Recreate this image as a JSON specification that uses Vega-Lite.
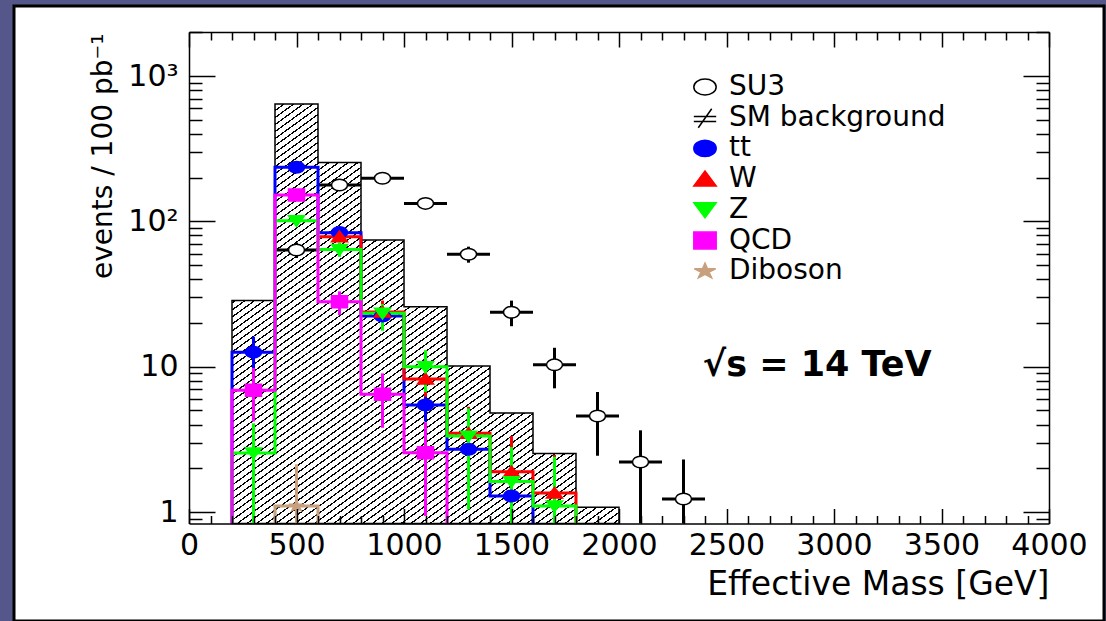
{
"$schema": "https://vega.github.io/schema/vega-lite/v6.json",
"width": 1090, "height": 615,
"autosize": {"type": "none"},
"padding": {"left": 14, "top": 6, "right": 2, "bottom": 0},
"datasets": {
 "bg": [
  {"x":200,"y":28.5},{"x":400,"y":643},{"x":600,"y":254},{"x":800,"y":74.5},{"x":1000,"y":25.9},
  {"x":1200,"y":10.1},{"x":1400,"y":4.8},{"x":1600,"y":2.53},{"x":1800,"y":1.08},{"x":2000,"y":1.08}
 ],
 "hist": [
  {"series":"tt","k":0,"x":200,"y":0.01},{"series":"tt","k":1,"x":200,"y":12.6},{"series":"tt","k":2,"x":400,"y":236},
  {"series":"tt","k":3,"x":600,"y":83.6},{"series":"tt","k":4,"x":800,"y":22.3},{"series":"tt","k":5,"x":1000,"y":5.45},
  {"series":"tt","k":6,"x":1200,"y":2.7},{"series":"tt","k":7,"x":1400,"y":1.29},{"series":"tt","k":8,"x":1600,"y":0.01},
  {"series":"W","k":0,"x":600,"y":78.5},{"series":"W","k":1,"x":800,"y":23.8},{"series":"W","k":2,"x":1000,"y":8.23},
  {"series":"W","k":3,"x":1200,"y":3.48},{"series":"W","k":4,"x":1400,"y":1.89},{"series":"W","k":5,"x":1600,"y":1.35},
  {"series":"W","k":6,"x":1800,"y":0.01},
  {"series":"Z","k":0,"x":200,"y":0.01},{"series":"Z","k":1,"x":200,"y":2.55},{"series":"Z","k":2,"x":400,"y":101},
  {"series":"Z","k":3,"x":600,"y":64},{"series":"Z","k":4,"x":800,"y":23.3},{"series":"Z","k":5,"x":1000,"y":10.0},
  {"series":"Z","k":6,"x":1200,"y":3.33},{"series":"Z","k":7,"x":1400,"y":1.62},{"series":"Z","k":8,"x":1600,"y":1.1},
  {"series":"Z","k":9,"x":1800,"y":0.01},
  {"series":"QCD","k":0,"x":200,"y":0.01},{"series":"QCD","k":1,"x":200,"y":6.9},{"series":"QCD","k":2,"x":400,"y":152},
  {"series":"QCD","k":3,"x":600,"y":28},{"series":"QCD","k":4,"x":800,"y":6.46},{"series":"QCD","k":5,"x":1000,"y":2.56},
  {"series":"QCD","k":6,"x":1200,"y":0.01},
  {"series":"Diboson","k":0,"x":400,"y":0.01},{"series":"Diboson","k":1,"x":400,"y":1.1},{"series":"Diboson","k":2,"x":600,"y":0.01}
 ],
 "pts": [
  {"series":"SU3","x":500,"y":63.6,"lo":56,"hi":71.5,"xlo":400,"xhi":600},
  {"series":"SU3","x":700,"y":178,"lo":165,"hi":191,"xlo":600,"xhi":800},
  {"series":"SU3","x":900,"y":198,"lo":184,"hi":212,"xlo":800,"xhi":1000},
  {"series":"SU3","x":1100,"y":133,"lo":122,"hi":144,"xlo":1000,"xhi":1200},
  {"series":"SU3","x":1300,"y":59.4,"lo":52,"hi":67,"xlo":1200,"xhi":1400},
  {"series":"SU3","x":1500,"y":23.7,"lo":19,"hi":28.5,"xlo":1400,"xhi":1600},
  {"series":"SU3","x":1700,"y":10.3,"lo":7.1,"hi":13.5,"xlo":1600,"xhi":1800},
  {"series":"SU3","x":1900,"y":4.58,"lo":2.44,"hi":6.7,"xlo":1800,"xhi":2000},
  {"series":"SU3","x":2100,"y":2.21,"lo":0.72,"hi":3.65,"xlo":2000,"xhi":2200},
  {"series":"SU3","x":2300,"y":1.23,"lo":0.12,"hi":2.3,"xlo":2200,"xhi":2400},
  {"series":"tt","x":300,"y":12.6,"lo":9.75,"hi":16.1},
  {"series":"tt","x":500,"y":236,"lo":224,"hi":248},
  {"series":"tt","x":700,"y":84,"lo":78,"hi":90},
  {"series":"tt","x":900,"y":22.3,"lo":19.5,"hi":25.5},
  {"series":"tt","x":1100,"y":5.45,"lo":4.2,"hi":6.9},
  {"series":"tt","x":1300,"y":2.7,"lo":1.05,"hi":4.35},
  {"series":"tt","x":1500,"y":1.29,"lo":0.4,"hi":2.2},
  {"series":"W","x":700,"y":78.5,"lo":73,"hi":84},
  {"series":"W","x":900,"y":23.8,"lo":20,"hi":28.5},
  {"series":"W","x":1100,"y":8.23,"lo":6.2,"hi":10.5},
  {"series":"W","x":1300,"y":3.48,"lo":1.7,"hi":5.3},
  {"series":"W","x":1500,"y":1.89,"lo":0.5,"hi":3.33},
  {"series":"W","x":1700,"y":1.35,"lo":0.2,"hi":2.47},
  {"series":"Z","x":300,"y":2.55,"lo":0.01,"hi":4.08},
  {"series":"Z","x":500,"y":101,"lo":93,"hi":110},
  {"series":"Z","x":700,"y":64,"lo":57,"hi":71.5},
  {"series":"Z","x":900,"y":23.3,"lo":17.7,"hi":27},
  {"series":"Z","x":1100,"y":10.0,"lo":6.7,"hi":13},
  {"series":"Z","x":1300,"y":3.33,"lo":1.04,"hi":5.17},
  {"series":"Z","x":1500,"y":1.62,"lo":0.01,"hi":2.8},
  {"series":"Z","x":1700,"y":1.1,"lo":0.01,"hi":2.4},
  {"series":"QCD","x":300,"y":6.9,"lo":4.2,"hi":9.8},
  {"series":"QCD","x":500,"y":152,"lo":140,"hi":164},
  {"series":"QCD","x":700,"y":28,"lo":22.7,"hi":33},
  {"series":"QCD","x":900,"y":6.46,"lo":3.8,"hi":9.0},
  {"series":"QCD","x":1100,"y":2.56,"lo":0.94,"hi":4.15},
  {"series":"Diboson","x":500,"y":1.1,"lo":0.01,"hi":2.13}
 ]
},
"layer": [
 {"data":{"name":"bg"},
  "mark":{"type":"area","interpolate":"step-after","stroke":"#000","strokeWidth":1.5,"opacity":1,"fillOpacity":1,
   "fill":{"gradient":"linear","x1":0,"y1":0,"x2":0.7725,"y2":1.1524,"stops":[
{"offset":0.003,"color":"#fff"},{"offset":0.003,"color":"#000"},{"offset":0.0052,"color":"#000"},{"offset":0.0052,"color":"#fff"},
{"offset":0.013,"color":"#fff"},{"offset":0.013,"color":"#000"},{"offset":0.0152,"color":"#000"},{"offset":0.0152,"color":"#fff"},
{"offset":0.023,"color":"#fff"},{"offset":0.023,"color":"#000"},{"offset":0.0252,"color":"#000"},{"offset":0.0252,"color":"#fff"},
{"offset":0.033,"color":"#fff"},{"offset":0.033,"color":"#000"},{"offset":0.0352,"color":"#000"},{"offset":0.0352,"color":"#fff"},
{"offset":0.043,"color":"#fff"},{"offset":0.043,"color":"#000"},{"offset":0.0452,"color":"#000"},{"offset":0.0452,"color":"#fff"},
{"offset":0.053,"color":"#fff"},{"offset":0.053,"color":"#000"},{"offset":0.0552,"color":"#000"},{"offset":0.0552,"color":"#fff"},
{"offset":0.063,"color":"#fff"},{"offset":0.063,"color":"#000"},{"offset":0.0652,"color":"#000"},{"offset":0.0652,"color":"#fff"},
{"offset":0.073,"color":"#fff"},{"offset":0.073,"color":"#000"},{"offset":0.0752,"color":"#000"},{"offset":0.0752,"color":"#fff"},
{"offset":0.083,"color":"#fff"},{"offset":0.083,"color":"#000"},{"offset":0.0852,"color":"#000"},{"offset":0.0852,"color":"#fff"},
{"offset":0.093,"color":"#fff"},{"offset":0.093,"color":"#000"},{"offset":0.0952,"color":"#000"},{"offset":0.0952,"color":"#fff"},
{"offset":0.103,"color":"#fff"},{"offset":0.103,"color":"#000"},{"offset":0.1052,"color":"#000"},{"offset":0.1052,"color":"#fff"},
{"offset":0.113,"color":"#fff"},{"offset":0.113,"color":"#000"},{"offset":0.1152,"color":"#000"},{"offset":0.1152,"color":"#fff"},
{"offset":0.123,"color":"#fff"},{"offset":0.123,"color":"#000"},{"offset":0.1252,"color":"#000"},{"offset":0.1252,"color":"#fff"},
{"offset":0.133,"color":"#fff"},{"offset":0.133,"color":"#000"},{"offset":0.1352,"color":"#000"},{"offset":0.1352,"color":"#fff"},
{"offset":0.143,"color":"#fff"},{"offset":0.143,"color":"#000"},{"offset":0.1452,"color":"#000"},{"offset":0.1452,"color":"#fff"},
{"offset":0.153,"color":"#fff"},{"offset":0.153,"color":"#000"},{"offset":0.1552,"color":"#000"},{"offset":0.1552,"color":"#fff"},
{"offset":0.163,"color":"#fff"},{"offset":0.163,"color":"#000"},{"offset":0.1652,"color":"#000"},{"offset":0.1652,"color":"#fff"},
{"offset":0.173,"color":"#fff"},{"offset":0.173,"color":"#000"},{"offset":0.1752,"color":"#000"},{"offset":0.1752,"color":"#fff"},
{"offset":0.183,"color":"#fff"},{"offset":0.183,"color":"#000"},{"offset":0.1852,"color":"#000"},{"offset":0.1852,"color":"#fff"},
{"offset":0.193,"color":"#fff"},{"offset":0.193,"color":"#000"},{"offset":0.1952,"color":"#000"},{"offset":0.1952,"color":"#fff"},
{"offset":0.203,"color":"#fff"},{"offset":0.203,"color":"#000"},{"offset":0.2052,"color":"#000"},{"offset":0.2052,"color":"#fff"},
{"offset":0.213,"color":"#fff"},{"offset":0.213,"color":"#000"},{"offset":0.2152,"color":"#000"},{"offset":0.2152,"color":"#fff"},
{"offset":0.223,"color":"#fff"},{"offset":0.223,"color":"#000"},{"offset":0.2252,"color":"#000"},{"offset":0.2252,"color":"#fff"},
{"offset":0.233,"color":"#fff"},{"offset":0.233,"color":"#000"},{"offset":0.2352,"color":"#000"},{"offset":0.2352,"color":"#fff"},
{"offset":0.243,"color":"#fff"},{"offset":0.243,"color":"#000"},{"offset":0.2452,"color":"#000"},{"offset":0.2452,"color":"#fff"},
{"offset":0.253,"color":"#fff"},{"offset":0.253,"color":"#000"},{"offset":0.2552,"color":"#000"},{"offset":0.2552,"color":"#fff"},
{"offset":0.263,"color":"#fff"},{"offset":0.263,"color":"#000"},{"offset":0.2652,"color":"#000"},{"offset":0.2652,"color":"#fff"},
{"offset":0.273,"color":"#fff"},{"offset":0.273,"color":"#000"},{"offset":0.2752,"color":"#000"},{"offset":0.2752,"color":"#fff"},
{"offset":0.283,"color":"#fff"},{"offset":0.283,"color":"#000"},{"offset":0.2852,"color":"#000"},{"offset":0.2852,"color":"#fff"},
{"offset":0.293,"color":"#fff"},{"offset":0.293,"color":"#000"},{"offset":0.2952,"color":"#000"},{"offset":0.2952,"color":"#fff"},
{"offset":0.303,"color":"#fff"},{"offset":0.303,"color":"#000"},{"offset":0.3052,"color":"#000"},{"offset":0.3052,"color":"#fff"},
{"offset":0.313,"color":"#fff"},{"offset":0.313,"color":"#000"},{"offset":0.3152,"color":"#000"},{"offset":0.3152,"color":"#fff"},
{"offset":0.323,"color":"#fff"},{"offset":0.323,"color":"#000"},{"offset":0.3252,"color":"#000"},{"offset":0.3252,"color":"#fff"},
{"offset":0.333,"color":"#fff"},{"offset":0.333,"color":"#000"},{"offset":0.3352,"color":"#000"},{"offset":0.3352,"color":"#fff"},
{"offset":0.343,"color":"#fff"},{"offset":0.343,"color":"#000"},{"offset":0.3452,"color":"#000"},{"offset":0.3452,"color":"#fff"},
{"offset":0.353,"color":"#fff"},{"offset":0.353,"color":"#000"},{"offset":0.3552,"color":"#000"},{"offset":0.3552,"color":"#fff"},
{"offset":0.363,"color":"#fff"},{"offset":0.363,"color":"#000"},{"offset":0.3652,"color":"#000"},{"offset":0.3652,"color":"#fff"},
{"offset":0.373,"color":"#fff"},{"offset":0.373,"color":"#000"},{"offset":0.3752,"color":"#000"},{"offset":0.3752,"color":"#fff"},
{"offset":0.383,"color":"#fff"},{"offset":0.383,"color":"#000"},{"offset":0.3852,"color":"#000"},{"offset":0.3852,"color":"#fff"},
{"offset":0.393,"color":"#fff"},{"offset":0.393,"color":"#000"},{"offset":0.3952,"color":"#000"},{"offset":0.3952,"color":"#fff"},
{"offset":0.403,"color":"#fff"},{"offset":0.403,"color":"#000"},{"offset":0.4052,"color":"#000"},{"offset":0.4052,"color":"#fff"},
{"offset":0.413,"color":"#fff"},{"offset":0.413,"color":"#000"},{"offset":0.4152,"color":"#000"},{"offset":0.4152,"color":"#fff"},
{"offset":0.423,"color":"#fff"},{"offset":0.423,"color":"#000"},{"offset":0.4252,"color":"#000"},{"offset":0.4252,"color":"#fff"},
{"offset":0.433,"color":"#fff"},{"offset":0.433,"color":"#000"},{"offset":0.4352,"color":"#000"},{"offset":0.4352,"color":"#fff"},
{"offset":0.443,"color":"#fff"},{"offset":0.443,"color":"#000"},{"offset":0.4452,"color":"#000"},{"offset":0.4452,"color":"#fff"},
{"offset":0.453,"color":"#fff"},{"offset":0.453,"color":"#000"},{"offset":0.4552,"color":"#000"},{"offset":0.4552,"color":"#fff"},
{"offset":0.463,"color":"#fff"},{"offset":0.463,"color":"#000"},{"offset":0.4652,"color":"#000"},{"offset":0.4652,"color":"#fff"},
{"offset":0.473,"color":"#fff"},{"offset":0.473,"color":"#000"},{"offset":0.4752,"color":"#000"},{"offset":0.4752,"color":"#fff"},
{"offset":0.483,"color":"#fff"},{"offset":0.483,"color":"#000"},{"offset":0.4852,"color":"#000"},{"offset":0.4852,"color":"#fff"},
{"offset":0.493,"color":"#fff"},{"offset":0.493,"color":"#000"},{"offset":0.4952,"color":"#000"},{"offset":0.4952,"color":"#fff"},
{"offset":0.503,"color":"#fff"},{"offset":0.503,"color":"#000"},{"offset":0.5052,"color":"#000"},{"offset":0.5052,"color":"#fff"},
{"offset":0.513,"color":"#fff"},{"offset":0.513,"color":"#000"},{"offset":0.5152,"color":"#000"},{"offset":0.5152,"color":"#fff"},
{"offset":0.523,"color":"#fff"},{"offset":0.523,"color":"#000"},{"offset":0.5252,"color":"#000"},{"offset":0.5252,"color":"#fff"},
{"offset":0.533,"color":"#fff"},{"offset":0.533,"color":"#000"},{"offset":0.5352,"color":"#000"},{"offset":0.5352,"color":"#fff"},
{"offset":0.543,"color":"#fff"},{"offset":0.543,"color":"#000"},{"offset":0.5452,"color":"#000"},{"offset":0.5452,"color":"#fff"},
{"offset":0.553,"color":"#fff"},{"offset":0.553,"color":"#000"},{"offset":0.5552,"color":"#000"},{"offset":0.5552,"color":"#fff"},
{"offset":0.563,"color":"#fff"},{"offset":0.563,"color":"#000"},{"offset":0.5652,"color":"#000"},{"offset":0.5652,"color":"#fff"},
{"offset":0.573,"color":"#fff"},{"offset":0.573,"color":"#000"},{"offset":0.5752,"color":"#000"},{"offset":0.5752,"color":"#fff"},
{"offset":0.583,"color":"#fff"},{"offset":0.583,"color":"#000"},{"offset":0.5852,"color":"#000"},{"offset":0.5852,"color":"#fff"},
{"offset":0.593,"color":"#fff"},{"offset":0.593,"color":"#000"},{"offset":0.5952,"color":"#000"},{"offset":0.5952,"color":"#fff"},
{"offset":0.603,"color":"#fff"},{"offset":0.603,"color":"#000"},{"offset":0.6052,"color":"#000"},{"offset":0.6052,"color":"#fff"},
{"offset":0.613,"color":"#fff"},{"offset":0.613,"color":"#000"},{"offset":0.6152,"color":"#000"},{"offset":0.6152,"color":"#fff"},
{"offset":0.623,"color":"#fff"},{"offset":0.623,"color":"#000"},{"offset":0.6252,"color":"#000"},{"offset":0.6252,"color":"#fff"},
{"offset":0.633,"color":"#fff"},{"offset":0.633,"color":"#000"},{"offset":0.6352,"color":"#000"},{"offset":0.6352,"color":"#fff"},
{"offset":0.643,"color":"#fff"},{"offset":0.643,"color":"#000"},{"offset":0.6452,"color":"#000"},{"offset":0.6452,"color":"#fff"},
{"offset":0.653,"color":"#fff"},{"offset":0.653,"color":"#000"},{"offset":0.6552,"color":"#000"},{"offset":0.6552,"color":"#fff"},
{"offset":0.663,"color":"#fff"},{"offset":0.663,"color":"#000"},{"offset":0.6652,"color":"#000"},{"offset":0.6652,"color":"#fff"},
{"offset":0.673,"color":"#fff"},{"offset":0.673,"color":"#000"},{"offset":0.6752,"color":"#000"},{"offset":0.6752,"color":"#fff"},
{"offset":0.683,"color":"#fff"},{"offset":0.683,"color":"#000"},{"offset":0.6852,"color":"#000"},{"offset":0.6852,"color":"#fff"},
{"offset":0.693,"color":"#fff"},{"offset":0.693,"color":"#000"},{"offset":0.6952,"color":"#000"},{"offset":0.6952,"color":"#fff"},
{"offset":0.703,"color":"#fff"},{"offset":0.703,"color":"#000"},{"offset":0.7052,"color":"#000"},{"offset":0.7052,"color":"#fff"},
{"offset":0.713,"color":"#fff"},{"offset":0.713,"color":"#000"},{"offset":0.7152,"color":"#000"},{"offset":0.7152,"color":"#fff"},
{"offset":0.723,"color":"#fff"},{"offset":0.723,"color":"#000"},{"offset":0.7252,"color":"#000"},{"offset":0.7252,"color":"#fff"},
{"offset":0.733,"color":"#fff"},{"offset":0.733,"color":"#000"},{"offset":0.7352,"color":"#000"},{"offset":0.7352,"color":"#fff"},
{"offset":0.743,"color":"#fff"},{"offset":0.743,"color":"#000"},{"offset":0.7452,"color":"#000"},{"offset":0.7452,"color":"#fff"},
{"offset":0.753,"color":"#fff"},{"offset":0.753,"color":"#000"},{"offset":0.7552,"color":"#000"},{"offset":0.7552,"color":"#fff"},
{"offset":0.763,"color":"#fff"},{"offset":0.763,"color":"#000"},{"offset":0.7652,"color":"#000"},{"offset":0.7652,"color":"#fff"},
{"offset":0.773,"color":"#fff"},{"offset":0.773,"color":"#000"},{"offset":0.7752,"color":"#000"},{"offset":0.7752,"color":"#fff"},
{"offset":0.783,"color":"#fff"},{"offset":0.783,"color":"#000"},{"offset":0.7852,"color":"#000"},{"offset":0.7852,"color":"#fff"},
{"offset":0.793,"color":"#fff"},{"offset":0.793,"color":"#000"},{"offset":0.7952,"color":"#000"},{"offset":0.7952,"color":"#fff"},
{"offset":0.803,"color":"#fff"},{"offset":0.803,"color":"#000"},{"offset":0.8052,"color":"#000"},{"offset":0.8052,"color":"#fff"},
{"offset":0.813,"color":"#fff"},{"offset":0.813,"color":"#000"},{"offset":0.8152,"color":"#000"},{"offset":0.8152,"color":"#fff"},
{"offset":0.823,"color":"#fff"},{"offset":0.823,"color":"#000"},{"offset":0.8252,"color":"#000"},{"offset":0.8252,"color":"#fff"},
{"offset":0.833,"color":"#fff"},{"offset":0.833,"color":"#000"},{"offset":0.8352,"color":"#000"},{"offset":0.8352,"color":"#fff"},
{"offset":0.843,"color":"#fff"},{"offset":0.843,"color":"#000"},{"offset":0.8452,"color":"#000"},{"offset":0.8452,"color":"#fff"},
{"offset":0.853,"color":"#fff"},{"offset":0.853,"color":"#000"},{"offset":0.8552,"color":"#000"},{"offset":0.8552,"color":"#fff"},
{"offset":0.863,"color":"#fff"},{"offset":0.863,"color":"#000"},{"offset":0.8652,"color":"#000"},{"offset":0.8652,"color":"#fff"},
{"offset":0.873,"color":"#fff"},{"offset":0.873,"color":"#000"},{"offset":0.8752,"color":"#000"},{"offset":0.8752,"color":"#fff"},
{"offset":0.883,"color":"#fff"},{"offset":0.883,"color":"#000"},{"offset":0.8852,"color":"#000"},{"offset":0.8852,"color":"#fff"},
{"offset":0.893,"color":"#fff"},{"offset":0.893,"color":"#000"},{"offset":0.8952,"color":"#000"},{"offset":0.8952,"color":"#fff"},
{"offset":0.903,"color":"#fff"},{"offset":0.903,"color":"#000"},{"offset":0.9052,"color":"#000"},{"offset":0.9052,"color":"#fff"},
{"offset":0.913,"color":"#fff"},{"offset":0.913,"color":"#000"},{"offset":0.9152,"color":"#000"},{"offset":0.9152,"color":"#fff"},
{"offset":0.923,"color":"#fff"},{"offset":0.923,"color":"#000"},{"offset":0.9252,"color":"#000"},{"offset":0.9252,"color":"#fff"},
{"offset":0.933,"color":"#fff"},{"offset":0.933,"color":"#000"},{"offset":0.9352,"color":"#000"},{"offset":0.9352,"color":"#fff"},
{"offset":0.943,"color":"#fff"},{"offset":0.943,"color":"#000"},{"offset":0.9452,"color":"#000"},{"offset":0.9452,"color":"#fff"},
{"offset":0.953,"color":"#fff"},{"offset":0.953,"color":"#000"},{"offset":0.9552,"color":"#000"},{"offset":0.9552,"color":"#fff"},
{"offset":0.963,"color":"#fff"},{"offset":0.963,"color":"#000"},{"offset":0.9652,"color":"#000"},{"offset":0.9652,"color":"#fff"},
{"offset":0.973,"color":"#fff"},{"offset":0.973,"color":"#000"},{"offset":0.9752,"color":"#000"},{"offset":0.9752,"color":"#fff"},
{"offset":0.983,"color":"#fff"},{"offset":0.983,"color":"#000"},{"offset":0.9852,"color":"#000"},{"offset":0.9852,"color":"#fff"},
{"offset":0.993,"color":"#fff"},{"offset":0.993,"color":"#000"},{"offset":0.9952,"color":"#000"},{"offset":0.9952,"color":"#fff"}
   ]}},
  "encoding":{
   "x":{"field":"x","type":"quantitative","scale":{"domain":[0,4000],"range":[175,1035],"nice":false,"zero":false},
    "axis":{"orient":"bottom","offset":-97.5,"values":[0,500,1000,1500,2000,2500,3000,3500,4000],"ticks":false,"domain":true,"labels":true,"format":"d","labelFontSize":30,"labelPadding":7,"labelFlush":false,"labelOverlap":false,"labelBound":false,"grid":false,"title":"Effective Mass [GeV]","titleFontSize":33,"titleFontWeight":"normal","titleAnchor":"end","titleAlign":"right","titleBaseline":"alphabetic","titleX":1035,"titleY":71,"zindex":1}},
   "y":{"field":"y","type":"quantitative","scale":{"type":"log","domain":[0.834,2010],"range":[517.5,26],"nice":false,"clamp":true},
    "axis":{"orient":"left","offset":-175,"values":[1,10,100,1000],"ticks":false,"domain":true,"labels":true,"labelExpr":"datum.value >= 1000 ? '10³' : datum.value >= 100 ? '10²' : datum.value >= 10 ? '10' : '1'","labelFontSize":30,"labelPadding":11,"labelFlush":false,"labelOverlap":false,"grid":false,"title":"events / 100 pb⁻¹","titleFontSize":28,"titleFontWeight":"normal","titleAngle":-90,"titleAlign":"right","titleBaseline":"alphabetic","titleX":-78,"titleY":27,"zindex":1}},
   "y2":{"datum":0.834}
  }},
 {"data":{"name":"pts"},"transform":[{"filter":"datum.series == 'SU3'"}],
  "mark":{"type":"rule","color":"#000","strokeWidth":3},
  "encoding":{
   "x":{"field":"xlo","type":"quantitative","scale":{"domain":[0,4000],"range":[175,1035],"nice":false,"zero":false},
    "axis":{"orient":"bottom","offset":-97.5,"values":[0,500,1000,1500,2000,2500,3000,3500,4000],"ticks":true,"tickSize":-15,"labels":false,"domain":false,"grid":false,"title":null,"zindex":1}},
   "x2":{"field":"xhi"},
   "y":{"field":"y","type":"quantitative","scale":{"type":"log","domain":[0.834,2010],"range":[517.5,26],"nice":false,"clamp":true},
    "axis":{"orient":"left","offset":-175,"values":[1,10,100,1000],"ticks":true,"tickSize":-26,"labels":false,"domain":false,"grid":false,"title":null,"zindex":1}}
  }},
 {"data":{"name":"pts"},"transform":[{"filter":"datum.series == 'SU3'"}],
  "mark":{"type":"rule","color":"#000","strokeWidth":3},
  "encoding":{
   "x":{"field":"x","type":"quantitative","scale":{"domain":[0,4000],"range":[175,1035],"nice":false,"zero":false},
    "axis":{"orient":"bottom","offset":-97.5,"values":[100,200,300,400,600,700,800,900,1100,1200,1300,1400,1600,1700,1800,1900,2100,2200,2300,2400,2600,2700,2800,2900,3100,3200,3300,3400,3600,3700,3800,3900],"ticks":true,"tickSize":-8,"labels":false,"domain":false,"grid":false,"title":null,"zindex":1}},
   "y":{"field":"lo","type":"quantitative","scale":{"type":"log","domain":[0.834,2010],"range":[517.5,26],"nice":false,"clamp":true},
    "axis":{"orient":"left","offset":-175,"values":[0.9,2,3,4,5,6,7,8,9,20,30,40,50,60,70,80,90,200,300,400,500,600,700,800,900,2000],"ticks":true,"tickSize":-13,"labels":false,"domain":false,"grid":false,"title":null,"zindex":1}},
   "y2":{"field":"hi"}
  }},
 {"data":{"name":"hist"},"transform":[{"filter":"datum.series == 'tt'"}],
  "mark":{"type":"line","interpolate":"step-after","color":"#0000ff","strokeWidth":3},
  "encoding":{
   "x":{"field":"x","type":"quantitative","scale":{"domain":[0,4000],"range":[175,1035],"nice":false,"zero":false},
    "axis":{"orient":"top","offset":-26,"values":[0,500,1000,1500,2000,2500,3000,3500,4000],"ticks":true,"tickSize":-15,"labels":false,"domain":true,"grid":false,"title":null,"zindex":1}},
   "y":{"field":"y","type":"quantitative","scale":{"type":"log","domain":[0.834,2010],"range":[517.5,26],"nice":false,"clamp":true},
    "axis":{"orient":"right","offset":-55,"values":[1,10,100,1000],"ticks":true,"tickSize":-26,"labels":false,"domain":true,"grid":false,"title":null,"zindex":1}},
   "order":{"field":"k","type":"quantitative"}
  }},
 {"data":{"name":"pts"},"transform":[{"filter":"datum.series == 'tt'"}],
  "mark":{"type":"rule","color":"#0000ff","strokeWidth":3},
  "encoding":{
   "x":{"field":"x","type":"quantitative","scale":{"domain":[0,4000],"range":[175,1035],"nice":false,"zero":false},
    "axis":{"orient":"top","offset":-26,"values":[100,200,300,400,600,700,800,900,1100,1200,1300,1400,1600,1700,1800,1900,2100,2200,2300,2400,2600,2700,2800,2900,3100,3200,3300,3400,3600,3700,3800,3900],"ticks":true,"tickSize":-8,"labels":false,"domain":false,"grid":false,"title":null,"zindex":1}},
   "y":{"field":"lo","type":"quantitative","scale":{"type":"log","domain":[0.834,2010],"range":[517.5,26],"nice":false,"clamp":true},
    "axis":{"orient":"right","offset":-55,"values":[0.9,2,3,4,5,6,7,8,9,20,30,40,50,60,70,80,90,200,300,400,500,600,700,800,900,2000],"ticks":true,"tickSize":-13,"labels":false,"domain":false,"grid":false,"title":null,"zindex":1}},
   "y2":{"field":"hi"}
  }},
 {"data":{"name":"hist"},"transform":[{"filter":"datum.series == 'W'"}],
  "mark":{"type":"line","interpolate":"step-after","color":"#ff0000","strokeWidth":3},
  "encoding":{
   "x":{"field":"x","type":"quantitative","scale":{"domain":[0,4000],"range":[175,1035],"nice":false,"zero":false},"axis":null},
   "y":{"field":"y","type":"quantitative","scale":{"type":"log","domain":[0.834,2010],"range":[517.5,26],"nice":false,"clamp":true},"axis":null},
   "order":{"field":"k","type":"quantitative"}
  }},
 {"data":{"name":"pts"},"transform":[{"filter":"datum.series == 'W'"}],
  "mark":{"type":"rule","color":"#ff0000","strokeWidth":3},
  "encoding":{
   "x":{"field":"x","type":"quantitative","scale":{"domain":[0,4000],"range":[175,1035],"nice":false,"zero":false},"axis":null},
   "y":{"field":"lo","type":"quantitative","scale":{"type":"log","domain":[0.834,2010],"range":[517.5,26],"nice":false,"clamp":true},"axis":null},
   "y2":{"field":"hi"}
  }},
 {"data":{"name":"hist"},"transform":[{"filter":"datum.series == 'Z'"}],
  "mark":{"type":"line","interpolate":"step-after","color":"#00ff00","strokeWidth":3},
  "encoding":{
   "x":{"field":"x","type":"quantitative","scale":{"domain":[0,4000],"range":[175,1035],"nice":false,"zero":false},"axis":null},
   "y":{"field":"y","type":"quantitative","scale":{"type":"log","domain":[0.834,2010],"range":[517.5,26],"nice":false,"clamp":true},"axis":null},
   "order":{"field":"k","type":"quantitative"}
  }},
 {"data":{"name":"pts"},"transform":[{"filter":"datum.series == 'Z'"}],
  "mark":{"type":"rule","color":"#00ff00","strokeWidth":3},
  "encoding":{
   "x":{"field":"x","type":"quantitative","scale":{"domain":[0,4000],"range":[175,1035],"nice":false,"zero":false},"axis":null},
   "y":{"field":"lo","type":"quantitative","scale":{"type":"log","domain":[0.834,2010],"range":[517.5,26],"nice":false,"clamp":true},"axis":null},
   "y2":{"field":"hi"}
  }},
 {"data":{"name":"hist"},"transform":[{"filter":"datum.series == 'QCD'"}],
  "mark":{"type":"line","interpolate":"step-after","color":"#ff00ff","strokeWidth":3},
  "encoding":{
   "x":{"field":"x","type":"quantitative","scale":{"domain":[0,4000],"range":[175,1035],"nice":false,"zero":false},"axis":null},
   "y":{"field":"y","type":"quantitative","scale":{"type":"log","domain":[0.834,2010],"range":[517.5,26],"nice":false,"clamp":true},"axis":null},
   "order":{"field":"k","type":"quantitative"}
  }},
 {"data":{"name":"pts"},"transform":[{"filter":"datum.series == 'QCD'"}],
  "mark":{"type":"rule","color":"#ff00ff","strokeWidth":3},
  "encoding":{
   "x":{"field":"x","type":"quantitative","scale":{"domain":[0,4000],"range":[175,1035],"nice":false,"zero":false},"axis":null},
   "y":{"field":"lo","type":"quantitative","scale":{"type":"log","domain":[0.834,2010],"range":[517.5,26],"nice":false,"clamp":true},"axis":null},
   "y2":{"field":"hi"}
  }},
 {"data":{"name":"hist"},"transform":[{"filter":"datum.series == 'Diboson'"}],
  "mark":{"type":"line","interpolate":"step-after","color":"#c8a07e","strokeWidth":3},
  "encoding":{
   "x":{"field":"x","type":"quantitative","scale":{"domain":[0,4000],"range":[175,1035],"nice":false,"zero":false},"axis":null},
   "y":{"field":"y","type":"quantitative","scale":{"type":"log","domain":[0.834,2010],"range":[517.5,26],"nice":false,"clamp":true},"axis":null},
   "order":{"field":"k","type":"quantitative"}
  }},
 {"data":{"name":"pts"},"transform":[{"filter":"datum.series == 'Diboson'"}],
  "mark":{"type":"rule","color":"#c8a07e","strokeWidth":3},
  "encoding":{
   "x":{"field":"x","type":"quantitative","scale":{"domain":[0,4000],"range":[175,1035],"nice":false,"zero":false},"axis":null},
   "y":{"field":"lo","type":"quantitative","scale":{"type":"log","domain":[0.834,2010],"range":[517.5,26],"nice":false,"clamp":true},"axis":null},
   "y2":{"field":"hi"}
  }},
 {"data":{"name":"pts"},
  "mark":{"type":"point","filled":true,"size":256,"strokeWidth":1.5,"opacity":1},
  "encoding":{
   "x":{"field":"x","type":"quantitative","scale":{"domain":[0,4000],"range":[175,1035],"nice":false,"zero":false},"axis":null},
   "y":{"field":"y","type":"quantitative","scale":{"type":"log","domain":[0.834,2010],"range":[517.5,26],"nice":false,"clamp":true},"axis":null},
   "shape":{"field":"series","type":"nominal","scale":{"domain":["SU3","SM background","tt","W","Z","QCD","Diboson"],
     "range":["M-1,0A1,0.72,0,1,0,1,0A1,0.72,0,1,0,-1,0Z","M-1,-0.1L1,-0.1M-1,0.35L1,0.35M-0.6,0.9L0.6,-0.8","M-1,0A1,0.72,0,1,0,1,0A1,0.72,0,1,0,-1,0Z","M-1,0.62L1,0.62L0,-0.72Z","M-1,-0.62L1,-0.62L0,0.72Z","M-1,-0.75L1,-0.75L1,0.75L-1,0.75Z","M0,-0.72L0.223,-0.221L0.951,-0.222L0.361,0.085L0.588,0.582L0,0.274L-0.588,0.582L-0.361,0.085L-0.951,-0.222L-0.223,-0.221Z"]},
     "legend":{"title":null}},
   "fill":{"field":"series","type":"nominal","scale":{"domain":["SU3","SM background","tt","W","Z","QCD","Diboson"],
     "range":["#ffffff","transparent","#0000ff","#ff0000","#00ff00","#ff00ff","#c8a07e"]},"legend":{"title":null}},
   "stroke":{"field":"series","type":"nominal","scale":{"domain":["SU3","SM background","tt","W","Z","QCD","Diboson"],
     "range":["#000000","#000000","#0000ff","#ff0000","#00ff00","#ff00ff","#c8a07e"]},"legend":{"title":null}}
  }},
 {"data":{"values":[{"t":"√s = 14 TeV"}]},
  "mark":{"type":"text","fontWeight":"bold","fontSize":35,"align":"left","baseline":"middle","color":"#000"},
  "encoding":{
   "text":{"field":"t"},
   "x":{"datum":2390,"type":"quantitative","scale":{"domain":[0,4000],"range":[175,1035],"nice":false,"zero":false},"axis":null},
   "y":{"datum":10.3,"type":"quantitative","scale":{"type":"log","domain":[0.834,2010],"range":[517.5,26],"nice":false,"clamp":true},"axis":null}
  }}
],
"resolve": {"axis": {"x": "independent", "y": "independent"}},
"config": {
 "background": "#55578a",
 "font": "DejaVu Sans",
 "view": {"fill": "#ffffff", "stroke": "#000000", "strokeWidth": 3},
 "axis": {"grid": false, "labelFont": "DejaVu Sans", "titleFont": "DejaVu Sans", "labelColor": "#000", "titleColor": "#000", "tickColor": "#000", "domainColor": "#000", "domainWidth": 1.5, "tickWidth": 1.5},
 "legend": {"orient": "none", "legendX": 677, "legendY": 67, "labelFont": "DejaVu Sans", "labelFontSize": 28, "labelColor": "#000", "labelLimit": 600, "symbolSize": 500, "symbolStrokeWidth": 1.5, "rowPadding": 2.7, "labelOffset": 10, "padding": 0}
}
}
